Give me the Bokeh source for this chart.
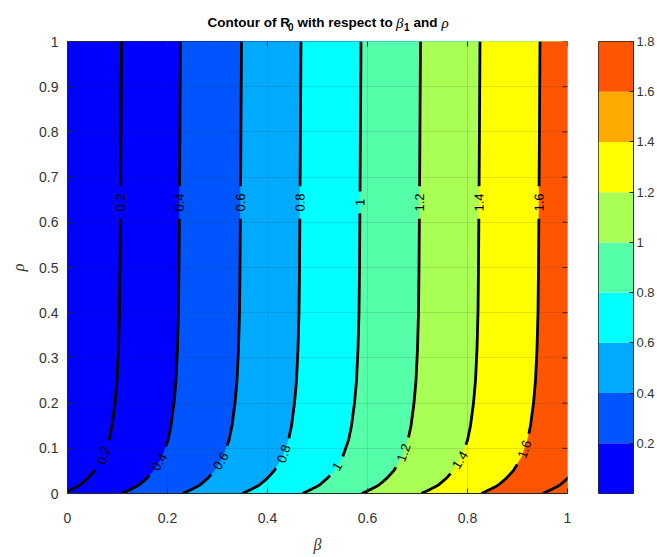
import numpy as np
from bokeh.plotting import figure
from bokeh.layouts import row, column
from bokeh.models import ColumnDataSource, FixedTicker, CustomJSTickFormatter, Range1d
from bokeh.core.properties import value
from bokeh.embed import file_html
from bokeh.resources import INLINE

# ---------------- data ----------------
levels = [0.2, 0.4, 0.6, 0.8, 1.0, 1.2, 1.4, 1.6, 1.8]
level_text = ["0.2", "0.4", "0.6", "0.8", "1", "1.2", "1.4", "1.6", "1.8"]
# beta position of each contour line in its upper (nearly vertical) part
beta_top = [0.106, 0.224, 0.346, 0.465, 0.585, 0.704, 0.823, 0.943, 1.066]
# common bend of the contour lines near rho = 0 (shift in beta vs. the upper part)
shape_rho = [0.0, 0.009, 0.018, 0.033, 0.051, 0.08, 0.118, 0.15, 0.2, 0.25, 0.32, 0.4, 0.5, 0.65, 1.0]
shape_dbeta = [-0.115, -0.098, -0.082, -0.066, -0.051, -0.035, -0.023, -0.017, -0.011,
               -0.007, -0.004, -0.002, -0.001, 0.0, 0.002]
# fill colour left of the first line, then right of each line
region_colors = ["#0000FF", "#0000FF", "#0055FF", "#00AAFF", "#00FFFF",
                 "#55FFAA", "#AAFF55", "#FFFF00", "#FF5500", "#FF5500"]
# colour bar bands
cbar_edges = [0.0, 0.2, 0.4, 0.6, 0.8, 1.0, 1.2, 1.4, 1.6, 1.8]
cbar_colors = ["#0000FF", "#0055FF", "#00AAFF", "#00FFFF", "#55FFAA",
               "#AAFF55", "#FFFF00", "#FFAA00", "#FF5500"]
cbar_ticks = [0.2, 0.4, 0.6, 0.8, 1.0, 1.2, 1.4, 1.6, 1.8]
# inline label positions (rho) for each line
label_rho_bottom = [0.084, 0.071, 0.073, 0.089, 0.060, 0.091, 0.075, 0.098]
label_rho_top = 0.645
x_ticks = [0, 0.2, 0.4, 0.6, 0.8, 1.0]
y_ticks = [0, 0.1, 0.2, 0.3, 0.4, 0.5, 0.6, 0.7, 0.8, 0.9, 1.0]
title_parts = ["Contour of R", "0", "with respect to", "β", "1", "and", "ρ"]

AX = "#333333"
EDGE = "#262626"
SANS = "Liberation Sans"
SERIF = "Liberation Serif"
SX, SY = 500.0, 452.0  # frame size in px
LEFT = 67

fmt = CustomJSTickFormatter(code="return String(Math.round(tick*10)/10);")

# ---------------- title strip (frame aligned with the plot frame) ----------------
tf = figure(width=575, height=33, x_range=Range1d(0, 1), y_range=Range1d(33, 0),
            output_backend="svg", toolbar_location=None, x_axis_type=None, y_axis_type=None,
            min_border_left=LEFT, min_border_right=8, min_border_top=0, min_border_bottom=0)
tf.outline_line_color = None
tf.grid.visible = False
t_px = [207.0, 287.5, 297.0, 395.5, 403.5, 413.0, 441.0]
t_y = [22, 26, 22, 22, 26, 22, 22]
t_font = [SANS, SANS, SANS, SERIF, SANS, SANS, SERIF]
t_style = ["bold", "bold", "bold", "italic", "bold", "bold", "italic"]
t_size = ["13.5px", "10px", "13.5px", "15px", "10px", "13.5px", "15px"]
for i, t in enumerate(title_parts):
    tf.text(x=[(t_px[i] - LEFT) / SX], y=[t_y[i]], text=[t], text_font=value(t_font[i]),
            text_font_style=t_style[i], text_font_size=value(t_size[i]), text_color="black",
            text_align="left", text_baseline="alphabetic")

# ---------------- main contour plot ----------------
p = figure(width=575, height=524, x_range=Range1d(0, 1), y_range=Range1d(0, 1),
           output_backend="svg", toolbar_location=None,
           min_border_left=LEFT, min_border_top=8, min_border_bottom=64, min_border_right=8)
p.title.visible = False
p.background_fill_color = region_colors[0]
p.outline_line_color = EDGE
p.outline_line_width = 1

for ax in (p.xaxis, p.yaxis):
    ax.major_tick_in = 5
    ax.major_tick_out = 0
    ax.minor_tick_line_color = None
    ax.axis_line_color = EDGE
    ax.major_tick_line_color = EDGE
    ax.major_label_text_font = SANS
    ax.major_label_text_font_size = "14px"
    ax.major_label_text_color = AX
    ax.formatter = fmt
    ax.axis_label_text_font = SERIF
    ax.axis_label_text_font_style = "italic"
    ax.axis_label_text_font_size = "16px"
    ax.axis_label_text_color = AX
p.xaxis.ticker = FixedTicker(ticks=x_ticks)
p.yaxis.ticker = FixedTicker(ticks=y_ticks)
p.xaxis.major_label_standoff = 19
p.yaxis.major_label_standoff = 9
p.xaxis.axis_label = "β"
p.yaxis.axis_label = "ρ"
p.xaxis.axis_label_standoff = 10
p.yaxis.axis_label_standoff = 9

rho_fine = np.linspace(0.0, 1.0, 501)
dbeta_fine = np.interp(rho_fine, shape_rho, shape_dbeta)
curves = [bt + dbeta_fine for bt in beta_top]

pxs, pys, pcs = [], [], []
for i, cb_ in enumerate(curves):
    pxs.append([cb_[0]] + list(cb_) + [cb_[-1], 2.0, 2.0])
    pys.append([-0.1] + list(rho_fine) + [1.1, 1.1, -0.1])
    pcs.append(region_colors[i + 1])
p.patches(xs="xs", ys="ys", fill_color="c", line_color="c", line_width=0.5,
          source=ColumnDataSource(dict(xs=pxs, ys=pys, c=pcs)))

p.xgrid.ticker = FixedTicker(ticks=x_ticks)
p.ygrid.ticker = FixedTicker(ticks=y_ticks)
for g in (p.xgrid, p.ygrid):
    g.grid_line_color = EDGE
    g.grid_line_alpha = 0.13
    g.level = "overlay"

# mirrored tick marks on top and right edges (box on)
p.segment(x0=x_ticks, x1=x_ticks, y0=[1.0] * len(x_ticks), y1=[1.0 - 5 / SY] * len(x_ticks),
          line_color=EDGE, line_width=1)
p.segment(x0=[1.0] * len(y_ticks), x1=[1.0 - 5 / SX] * len(y_ticks), y0=y_ticks, y1=y_ticks,
          line_color=EDGE, line_width=1)

lab_x, lab_y, lab_t, lab_a = [], [], [], []


def text_w(t):
    return sum(7.2 if c.isdigit() else 3.6 for c in t)


for i, cb_ in enumerate(curves):
    sx = cb_ * SX
    sy = rho_fine * SY
    dx = np.gradient(sx)
    dy = np.gradient(sy)
    spots = []
    if i < len(label_rho_bottom):
        spots = [label_rho_bottom[i], label_rho_top]
    b = cb_.copy()
    for r in spots:
        k = int(np.argmin(np.abs(rho_fine - r)))
        cx, cy = sx[k], sy[k]
        rad = text_w(level_text[i]) / 2 + 7
        b[np.hypot(sx - cx, sy - cy) < rad] = np.nan
        lab_x.append(cb_[k])
        lab_y.append(rho_fine[k])
        lab_t.append(level_text[i])
        lab_a.append(float(np.arctan2(dy[k], dx[k])))
    p.line(b, rho_fine, line_color="black", line_width=2.8)

p.text(x="x", y="y", text="t", angle="a",
       source=ColumnDataSource(dict(x=lab_x, y=lab_y, t=lab_t, a=lab_a)),
       text_align="center", text_baseline="middle", text_font=value(SANS),
       text_font_size="13px", text_color="black")

# ---------------- colour bar ----------------
cf = figure(width=82, height=557, x_range=Range1d(0, 1), y_range=Range1d(cbar_edges[0], cbar_edges[-1]),
            output_backend="svg", toolbar_location=None, x_axis_type=None,
            y_axis_location="right", min_border_left=23, min_border_right=0,
            min_border_top=41, min_border_bottom=64)
cf.title.visible = False
cf.grid.visible = False
cf.outline_line_color = EDGE
cf.quad(left=0, right=1, bottom=cbar_edges[:-1], top=cbar_edges[1:], fill_color=cbar_colors,
        line_color=None)
cy = cf.yaxis[0]
cy.ticker = FixedTicker(ticks=cbar_ticks)
cy.formatter = fmt
cy.major_tick_in = 4
cy.major_tick_out = 0
cy.minor_tick_line_color = None
cy.axis_line_color = EDGE
cy.major_tick_line_color = EDGE
cy.major_label_standoff = 3
cy.major_label_text_font = SANS
cy.major_label_text_font_size = "13px"
cy.major_label_text_color = AX

layout = row(column(tf, p, spacing=0), cf, spacing=0)
open("out.html", "w").write(file_html(layout, INLINE))
